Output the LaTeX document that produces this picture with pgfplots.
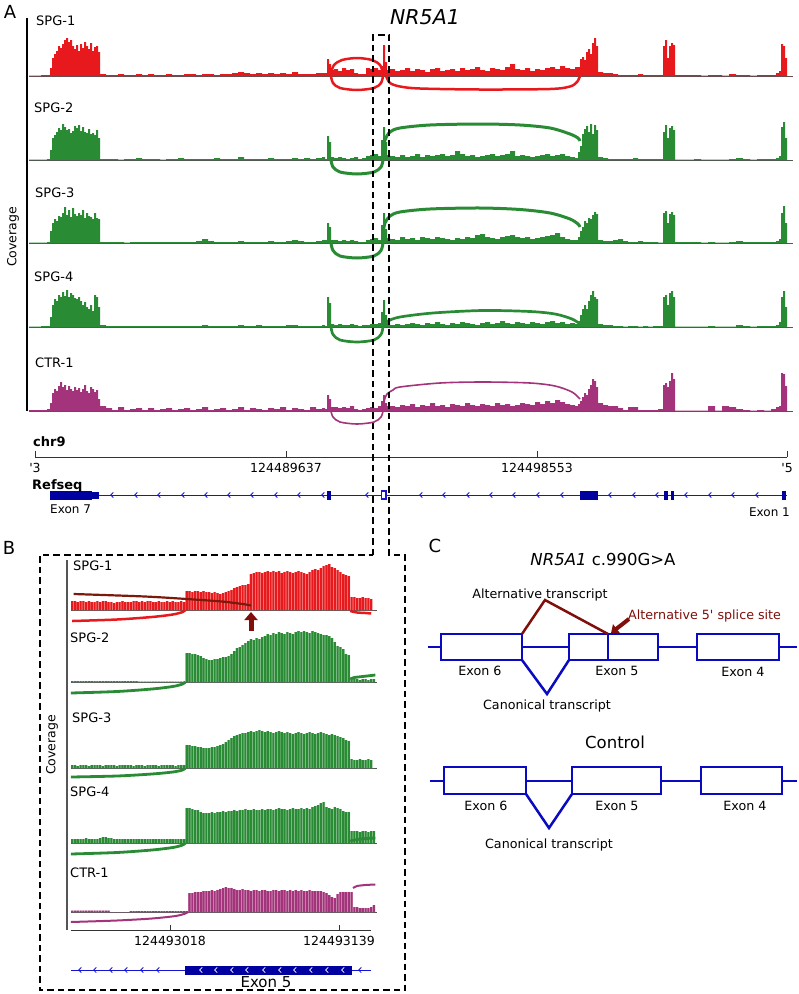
\documentclass[border=0pt]{standalone}
\usepackage{fontspec}
\setmainfont{DejaVu Sans}
\usepackage{pgfplots}
\pgfplotsset{compat=1.18}
\usepackage{pgfplotstable}
\usetikzlibrary{arrows.meta}
\definecolor{cred}{HTML}{E8191C}
\definecolor{cgreen}{HTML}{2A8B35}
\definecolor{cmag}{HTML}{A3337A}
\definecolor{cdred}{HTML}{800E0A}
\definecolor{cbrown}{HTML}{7A1A0C}
\definecolor{cblue}{HTML}{1414D2}
\definecolor{cblueC}{HTML}{0A0AC0}
\definecolor{cnavy}{HTML}{0000A0}
\definecolor{cgray}{HTML}{555555}
\newcommand\fs[1]{\fontsize{#1}{#1}\selectfont}
\pgfdeclareplotmark{chev}{%
  \pgfpathmoveto{\pgfqpoint{1.3pt}{2.6pt}}%
  \pgfpathlineto{\pgfqpoint{-1.3pt}{0pt}}%
  \pgfpathlineto{\pgfqpoint{1.3pt}{-2.6pt}}%
  \pgfusepathqstroke}
\tikzset{lbl/.style={inner sep=0pt}}

% ---------------- Panel A coverage (x: px position along locus, y: coverage height) -----
\pgfplotstableread{
x s1 s2 s3 s4 c1
29 0.5 0.5 0.5 0.5 1
35 0.5 0.5 0.5 0.5 1
41 1 0.5 0.5 1 1
47 1 1 1 1 2
50 8 10 12 10 8
52 18 22 20 22 18
54 22 25 24 28 22
56 25 28 22 26 20
58 30 32 27 32 25
60 28 30 26 30 29
62 32 36 30 35 24
64 36 33 36 31 26
66 38 30 28 37 21
68 34 31 33 30 25
70 36 27 26 34 22
72 30 29 35 32 20
74 27 34 29 29 24
76 31 32 27 28 21
78 25 35 30 30 23
80 32 29 28 26 19
82 28 33 33 22 22
84 34 28 25 25 26
86 30 27 30 20 20
88 27 31 27 18 18
90 33 26 26 22 24
92 25 27 24 16 22
94 29 25 30 32 19
96 30 30 25 30 21
98 24 22 24 20 12
100 2 1 1 2 5
106 1 1 1 1 3
112 1 1 1 1 1
118 2 0.5 1 1 4
124 1 1 0.5 1 1
130 1 1 1 1 2
136 2 2 1 1 3
142 1 1 1 1 1
148 2 1 1 1 3
154 1 1 1 1 1
160 1 0.5 1 1 2
166 2 1 1 1 3
172 1 1 1 1 1
178 1 2 1 1 2
184 2 1 1 1 3
190 2 1 1 1 1
196 1 1 2 1 2
202 2 1 4 2 4
208 2 1 2 1 1
214 1 2 1 1 2
220 2 1 1 1 3
226 2 1 1 1 1
232 3 1 1 1 2
238 4 3 2 2 4
244 3 1 1 1 1
250 2 1 1 1 3
256 3 1 1 2 2
262 2 1 1 1 1
268 3 2 2 1 3
274 2 1 1 1 2
280 3 1 1 1 4
286 2 1 2 2 1
292 4 2 3 2 3
298 2 1 2 1 2
304 2 2 1 1 1
310 2 1 1 1 4
316 3 2 2 1 2
322 3 3 3 2 3
325 3 1 3 1 2
327 17 24 20 30 16
329 12 18 16 24 12
331 6 3 3 3 4
334 7 2 3 2 4
338 5 3 2 3 3
342 8 2 3 2 4
346 6 1 2 2 3
350 7 2 3 3 5
354 3 3 2 2 2
358 2 1 1 1 1
362 2 2 1 2 2
366 8 4 3 2 3
370 7 5 4 3 4
374 8 6 5 3 3
378 6 4 3 4 5
381 10 20 18 15 10
383 31 33 30 27 16
385 14 18 14 12 8
387 6 5 5 4 5
390 7 4 4 2 5
395 5 3 3 3 4
400 6 5 6 2 6
405 8 3 4 3 5
410 5 4 5 4 7
415 7 6 3 3 4
420 6 3 6 2 6
425 4 5 5 4 5
430 7 4 4 3 8
435 8 5 6 5 5
440 5 6 5 3 6
445 6 4 4 2 4
450 7 5 3 4 7
455 5 9 5 3 6
460 8 6 4 5 5
465 6 4 6 4 8
470 7 5 5 3 6
475 9 3 8 2 5
480 6 4 9 4 7
485 5 5 6 5 6
490 8 6 5 3 5
495 7 4 4 4 8
500 6 5 6 6 6
505 9 6 7 4 7
510 12 9 8 3 5
515 7 4 6 5 6
520 6 5 5 4 8
525 8 4 6 3 7
530 5 3 4 5 6
535 7 4 5 4 9
540 6 5 6 3 7
545 8 6 7 5 10
550 9 4 8 6 8
555 7 5 10 4 11
560 10 6 6 5 9
565 8 4 4 3 7
570 7 3 3 4 6
575 9 2 3 3 5
578 9 8 6 6 7
580 17 14 12 12 10
582 19 26 16 18 14
584 16 31 22 22 18
586 24 34 20 18 16
588 27 28 25 26 22
590 22 36 24 32 26
592 33 26 28 36 32
594 38 35 31 30 30
596 30 30 29 28 24
598 4 3 3 3 8
603 3 2 2 2 6
608 3 1 2 2 5
613 2 1 3 1 5
618 1 1 4 1 3
623 1 1 2 0.5 1
628 1 1 1 1 4
633 1 2 1 1 4
638 2 1 2 0.5 1
643 1 1 1 1 1
648 1 1 1 0.5 1
653 1 1 1 1 1
658 1 1 0.5 1 2
663 30 28 30 30 26
665 36 35 32 32 28
667 18 22 20 22 24
669 30 32 29 34 30
671 33 34 31 36 38
673 31 30 28 30 32
675 1 0.5 1 0.5 0.5
680 1 0.5 1 0.5 0.5
687 1 0.5 1 0.5 0.5
694 1 1 1 0.5 0.5
701 0.5 0.5 0.5 0.5 0.5
708 1 0.5 1 1 5
715 1 0.5 0.5 0.5 0.5
722 0.5 0.5 0.5 0.5 5
729 2 1 1 0.5 4
736 1 2 2 2 2
743 1 1 1 1 1
750 0.5 0.5 1 0.5 0.5
757 1 1 1 1 1
764 1 1 1 1 0.5
771 1 1 1 1 2
776 3 2 2 2 4
779 5 4 4 5 5
781 32 33 30 30 38
783 30 38 37 36 37
785 18 22 20 20 25
787 0 0 0 0 0
793 0 0 0 0 0
}\covA

% ---------------- Panel B coverage (x: bp offset from 124493000) ----------------
\pgfplotstableread{
x s1 s2 s3 s4 c1
-52 9 1 3 4 1.5
-50 9 1 3 4 1.5
-48 8 1 2 4 1.5
-46 9 1 3 4 1.5
-44 9 1 3 4 1.5
-42 8 1 3 5 1.5
-40 9 1 2 4 1.5
-38 8 1 3 4 1.5
-36 8 1 3 4 1.5
-34 9 1 3 4 1.5
-32 8 1 3 5 1.5
-30 9 1 2 6 1.5
-28 9 1 3 6 1.5
-26 8 1 3 5 1.5
-24 8 1 3 5 0
-22 7 1 3 4 0
-20 8 1 2 4 0
-18 8 1 3 4 0
-16 9 1 3 4 0
-14 8 1 3 4 0
-12 8 1 3 4 0
-10 8 1 3 4 1
-8 9 1 2 4 1
-6 9 1 3 4 1
-4 8 0.5 3 4 1
-2 9 0.5 3 4 1
0 8 0.5 2 4 1
2 9 0.5 3 4 1
4 9 0.5 3 4 1
6 8 0.5 3 4 1
8 8 0.5 3 4 1
10 9 0.5 2 4 1
12 8 0.5 3 4 1
14 8 0.5 3 4 1
16 9 0.5 3 4 1
18 8 0.5 3 4 1
20 9 0.5 3 4 1
22 8 0.5 2 4 1
24 8 0.5 3 4 1
26 9 0.5 3 4 1
28 8 0.5 3 4 1
30 19 29 23 35 1
32 19 29 23 35 19
34 18 28 22 34 19
36 19 28 22 33 20
38 19 27 21 33 20
40 18 26 21 31 20
42 19 24 20 30 21
44 18 23 20 30 21
46 18 22 20 30 21
48 17 22 21 31 22
50 18 23 21 30 21
52 17 23 22 31 22
54 16 24 23 31 23
56 17 25 24 32 24
58 18 25 26 31 25
60 19 26 28 32 24
62 20 28 30 32 24
64 22 31 32 33 23
66 23 34 33 32 22
68 24 35 34 33 22
70 25 37 35 33 23
72 25 39 35 34 22
74 26 41 36 33 22
76 36 43 37 33 21
78 37 42 36 34 22
80 38 44 37 33 22
82 38 43 38 33 21
84 37 45 37 34 22
86 38 46 36 33 22
88 39 48 37 34 21
90 38 47 36 34 21
92 39 49 35 33 22
94 38 48 36 34 22
96 39 50 37 35 21
98 37 49 36 34 22
100 38 48 35 34 22
102 39 50 36 33 21
104 38 49 35 34 22
106 37 48 34 35 21
108 38 50 35 34 22
110 39 51 36 34 21
112 38 50 35 35 22
114 37 51 34 34 21
116 36 50 35 35 21
118 38 49 36 34 22
120 40 51 35 36 21
122 41 50 34 37 21
124 40 49 35 38 21
126 42 48 36 40 21
128 44 47 35 41 20
130 45 47 34 36 19
132 46 46 33 35 17
134 43 44 34 34 15
136 42 40 33 36 14
138 40 36 32 35 18
140 38 35 31 34 20
142 36 33 30 32 20
144 35 28 28 31 20
146 34 27 27 31 20
148 13 3 9 12 20
150 13 3 8 12 5
152 12 3 8 12 5
154 12 2 9 11 4
156 13 3 8 12 4
158 12 3 8 12 4
160 12 2 9 11 4
162 11 3 8 12 5
164 0 3 0 12 7
}\covB

\pgfplotsset{
 trackA/.style={hide axis, clip=false, x=1pt, y=1pt, xmin=29, xmax=793, ymin=-25, ymax=45, enlargelimits=false, anchor=south west},
 trackB/.style={hide axis, clip=false, x=1.397pt, y=1pt, xmin=-53, xmax=166, ymin=-15, ymax=55, enlargelimits=false, anchor=south west},
}
\newcommand\trackA[4]{%
\begin{axis}[trackA, at={(29pt,-#1pt-25pt)}]
\addplot[cgray, line width=1pt] coordinates {(29,0)(793,0)};
\addplot[fill=#3, draw=none, const plot mark left] table[x=x,y=#2]{\covA} \closedcycle;
#4
\end{axis}}
\newcommand\trackB[4]{%
\begin{axis}[trackB, at={(70.8pt,-#1pt-15pt)}]
\addplot[cgray, line width=1pt] coordinates {(-53,0)(166,0)};
\addplot[fill=#3!40!white, draw=none, const plot mark mid] table[x=x,y=#2]{\covB} \closedcycle;
\addplot[ybar, bar width=1.5, bar shift=0pt, fill=#3, draw=none] table[x=x,y=#2]{\covB};
#4
\end{axis}}

\begin{document}
\begin{tikzpicture}
\useasboundingbox (0pt,0pt) rectangle (799pt,-994pt);

% ================= Panel A tracks =================
\trackA{76}{s1}{cred}{
\addplot[cred, line width=2.5pt, smooth] coordinates {(331,0)(333,-7)(340,-12)(357,-14)(374,-12)(381,-7)(383,0)};
\addplot[cred, line width=2.5pt, smooth] coordinates {(331,3)(334,11)(342,16)(357,18)(372,16)(380,11)(383,3)};
\addplot[cred, line width=2.5pt, smooth] coordinates {(386,0)(390,-7)(400,-10.5)(420,-12.5)(480,-13.5)(550,-13)(570,-10.5)(577,-6)(580,0)};
}
\trackA{160}{s2}{cgreen}{
\addplot[cgreen, line width=3pt, smooth] coordinates {(331,0)(333,-7)(340,-12)(357,-14)(374,-12)(381,-7)(383,0)};
\addplot[cgreen, line width=3pt, smooth] coordinates {(383,8)(385,20)(390,28)(400,32)(430,35)(480,36)(520,35)(550,32)(570,26)(578,22)(580,19)};
}
\trackA{243}{s3}{cgreen}{
\addplot[cgreen, line width=3pt, smooth] coordinates {(331,0)(333,-7.5)(340,-13)(357,-15)(374,-13)(381,-7.5)(383,0)};
\addplot[cgreen, line width=3pt, smooth] coordinates {(383,10)(385,20)(390,27)(400,31)(430,34)(480,35)(520,33.5)(550,30)(570,24)(578,19)(580,16)};
}
\trackA{327}{s4}{cgreen}{
\addplot[cgreen, line width=2.7pt, smooth] coordinates {(331,0)(333,-7.5)(340,-13)(357,-15)(374,-13)(381,-7.5)(383,0)};
\addplot[cgreen, line width=2.7pt, smooth] coordinates {(384,2)(388,6)(400,10)(433,14)(483,16.5)(530,15.5)(555,13)(572,8)(580,3)};
}
\trackA{411}{c1}{cmag}{
\addplot[cmag, line width=1.6pt, smooth] coordinates {(331,0)(333,-6)(340,-11)(357,-13)(374,-11)(381,-6)(383,0)};
\addplot[cmag, line width=1.6pt, smooth] coordinates {(382,2)(384,10)(387,17)(393,21)(400,24)(440,28)(483,29)(530,28)(555,25)(572,19)(580,12)};
}

% ruler + gene model A
\begin{axis}[x=1pt, y=1pt, xmin=35, xmax=787, ymin=0, ymax=10, enlargelimits=false, clip=false,
  axis x line=bottom, axis y line=none, axis line style={black!80, line width=0.8pt, -},
  xtick={35,286,537,787}, xticklabels={\textquotesingle 3,124489637,124498553,\textquotesingle 5},
  tick align=inside, major tick length=6pt, tick style={black!80, line width=0.8pt},
  xticklabel style={font=\fs{12.5}, yshift=-3pt},
  at={(35pt,-457pt)}, anchor=south west]
\addplot[cblue, line width=1pt] coordinates {(50,-38)(787,-38)};
\addplot[fill=cnavy, draw=none] coordinates {(50,-42.5)(92,-42.5)(92,-33.5)(50,-33.5)};
\addplot[fill=cnavy, draw=none] coordinates {(92,-41.5)(99,-41.5)(99,-34.5)(92,-34.5)};
\addplot[fill=cnavy, draw=none] coordinates {(326.5,-42.5)(330.5,-42.5)(330.5,-33.5)(326.5,-33.5)};
\addplot[fill=white, draw=cblue, line width=1.2pt, line cap=rect] coordinates {(381.5,-42)(386,-42)(386,-34)(381.5,-34)(381.5,-42)};
\addplot[fill=cnavy, draw=none] coordinates {(580,-42.5)(598,-42.5)(598,-33.5)(580,-33.5)};
\addplot[fill=cnavy, draw=none] coordinates {(664,-42.5)(668,-42.5)(668,-33.5)(664,-33.5)};
\addplot[fill=cnavy, draw=none] coordinates {(670.5,-42.5)(673.5,-42.5)(673.5,-33.5)(670.5,-33.5)};
\addplot[fill=cnavy, draw=none] coordinates {(781.5,-42.5)(786,-42.5)(786,-33.5)(781.5,-33.5)};
\addplot[only marks, mark=chev, cblue, mark options={line width=0.8pt}] coordinates {(112,-38)(136,-38)(159,-38)(183,-38)(206,-38)(229,-38)(252,-38)(276,-38)(299,-38)(323,-38)(367,-38)(421,-38)(444,-38)(468,-38)(491,-38)(514,-38)(538,-38)(562,-38)(610,-38)(634,-38)(657,-38)(686,-38)(710,-38)(733,-38)(757,-38)};
\end{axis}

% ================= Panel B tracks =================
\trackB{610}{s1}{cred}{
\addplot[cbrown, line width=2.2pt, smooth] coordinates {(-51,16)(0,13.5)(30,11)(55,8.5)(70,6)(76,4.5)};
\addplot[cred, line width=2.5pt, smooth] coordinates {(-52,-11)(-20,-9.5)(5,-7)(20,-4.5)(27,-2)(29,0)};
\addplot[cred, line width=2.5pt, smooth] coordinates {(147,-1)(152,-2.5)(158,-3)(162,-3.5)};
\addplot[cdred, line width=5pt, -{Triangle[width=13pt,length=8pt]}] coordinates {(76,-21)(76,-2)};
}
\trackB{682}{s2}{cgreen}{
\addplot[cgreen, line width=2.8pt, smooth] coordinates {(-53,-11)(-20,-9.5)(5,-7)(20,-4.5)(27,-2)(29,0)};
\addplot[cgreen, line width=2.8pt, smooth] coordinates {(147,3)(150,4.5)(156,5.5)(165,7)};
}
\trackB{768}{s3}{cgreen}{
\addplot[cgreen, line width=2.8pt, smooth] coordinates {(-53,-9)(-20,-8)(5,-6)(20,-4)(27,-2)(29,0)};
}
\trackB{843}{s4}{cgreen}{
\addplot[cgreen, line width=2.8pt, smooth] coordinates {(-53,-11)(-20,-9.5)(5,-7)(20,-4.5)(27,-2)(29,0)};
\addplot[cgreen, line width=2.8pt, smooth] coordinates {(147,2)(152,3.5)(158,4.5)(165,5)};
}
\trackB{912}{c1}{cmag}{
\addplot[cmag, line width=2pt, smooth] coordinates {(-53,-10)(-20,-8.5)(5,-6.5)(22,-4)(29,-1.5)(31,0)};
\addplot[cmag, line width=2pt, smooth] coordinates {(149,24)(152,26)(158,27)(165,27.5)};
}

% ruler + gene model B
\begin{axis}[x=1.397pt, y=1pt, xmin=-53, xmax=162, ymin=0, ymax=10, enlargelimits=false, clip=false,
  axis x line=bottom, axis y line=none, axis line style={black!80, line width=0.8pt, -},
  xtick={18,139}, xticklabels={124493018,124493139},
  tick align=inside, major tick length=5pt, tick style={black!80, line width=0.8pt},
  xticklabel style={font=\fs{12.5}, yshift=-3pt},
  at={(70.8pt,-930pt)}, anchor=south west]
\addplot[cblue, line width=1pt] coordinates {(-53,-40)(162,-40)};
\addplot[fill=cnavy, draw=none] coordinates {(29,-44.5)(148,-44.5)(148,-35.5)(29,-35.5)};
\addplot[only marks, mark=chev, cblue, mark options={line width=0.8pt}] coordinates {(-46.4,-40)(-35.7,-40)(-24.2,-40)(-13.5,-40)(-2,-40)(9.4,-40)(154,-40)};
\addplot[only marks, mark=chev, white, mark options={line width=0.7pt}] coordinates {(40.2,-40)(50.9,-40)(62.4,-40)(73.1,-40)(85.3,-40)(96.7,-40)(107.5,-40)(118.9,-40)(130.4,-40)(141.8,-40)};
\end{axis}

% ================= Canvas: axes lines, panel C, dashed box =================
\begin{axis}[hide axis, clip=false, x=1pt, y=1pt, xmin=0, xmax=799, ymin=-994, ymax=0, enlargelimits=false, at={(0pt,0pt)}, anchor=north west]
\addplot[black, line width=1.2pt] coordinates {(27,-18)(27,-411)};
\addplot[cgray, line width=1.5pt] coordinates {(67,-560)(67,-930)};
% mutant diagram
\addplot[cblueC, line width=2.5pt] coordinates {(428,-647)(797,-647)};
\addplot[cblueC, line width=2.5pt, fill=white, line cap=rect] coordinates {(441,-634)(522,-634)(522,-660)(441,-660)(441,-634)};
\addplot[cblueC, line width=2.5pt, fill=white, line cap=rect] coordinates {(569,-634)(658,-634)(658,-660)(569,-660)(569,-634)};
\addplot[cblueC, line width=2.5pt, fill=white, line cap=rect] coordinates {(697,-634)(779,-634)(779,-660)(697,-660)(697,-634)};
\addplot[cblueC, line width=2.5pt] coordinates {(608,-634)(608,-660)};
\addplot[cblueC, line width=2.5pt] coordinates {(522,-660)(547,-694)(569,-660)};
\addplot[cdred, line width=2.5pt] coordinates {(522,-634)(545,-600)(608,-634)};
\addplot[cdred, line width=4pt, -{Triangle[width=11pt,length=7pt]}] coordinates {(629,-619)(611,-633)};
% control diagram
\addplot[cblueC, line width=2.5pt] coordinates {(430,-781)(797,-781)};
\addplot[cblueC, line width=2.5pt, fill=white, line cap=rect] coordinates {(444,-767)(526,-767)(526,-794)(444,-794)(444,-767)};
\addplot[cblueC, line width=2.5pt, fill=white, line cap=rect] coordinates {(572,-767)(661,-767)(661,-794)(572,-794)(572,-767)};
\addplot[cblueC, line width=2.5pt, fill=white, line cap=rect] coordinates {(701,-767)(782,-767)(782,-794)(701,-794)(701,-767)};
\addplot[cblueC, line width=2.5pt] coordinates {(526,-794)(549,-828)(572,-794)};
% dashed zoom box
\addplot[black, line width=2pt, dash pattern=on 6.5pt off 4pt] coordinates {(373,-555)(373,-35)(389,-35)(389,-555)(405,-555)(405,-990)(40,-990)(40,-555)(373,-555)};
\end{axis}

% ================= Text =================
\node[lbl, font=\fs{18}] at (10pt,-11.5pt) {A};
\node[lbl, font=\fs{18}] at (9pt,-548pt) {B};
\node[lbl, font=\fs{18}] at (435pt,-546pt) {C};
\node[lbl, font=\fs{20.5}\itshape] at (425pt,-17pt) {NR5A1};
\node[lbl, font=\fs{12.5}, rotate=90] at (13pt,-237pt) {Coverage};
\node[lbl, font=\fs{12.5}, rotate=90] at (52pt,-745pt) {Coverage};
\node[lbl, font=\fs{13}, anchor=west] at (36pt,-21pt) {SPG-1};
\node[lbl, font=\fs{13}, anchor=west] at (34pt,-108pt) {SPG-2};
\node[lbl, font=\fs{13}, anchor=west] at (35pt,-193pt) {SPG-3};
\node[lbl, font=\fs{13}, anchor=west] at (34pt,-277pt) {SPG-4};
\node[lbl, font=\fs{13}, anchor=west] at (35pt,-363pt) {CTR-1};
\node[lbl, font=\fs{13}\bfseries, anchor=west] at (33pt,-442pt) {chr9};
\node[lbl, font=\fs{13}\bfseries, anchor=west] at (32pt,-485.5pt) {Refseq};
\node[lbl, font=\fs{12}, anchor=west] at (50pt,-509pt) {Exon 7};
\node[lbl, font=\fs{12}, anchor=east] at (790pt,-512pt) {Exon 1};
\node[lbl, font=\fs{13}, anchor=west] at (73pt,-566pt) {SPG-1};
\node[lbl, font=\fs{13}, anchor=west] at (70pt,-638pt) {SPG-2};
\node[lbl, font=\fs{13}, anchor=west] at (72pt,-718pt) {SPG-3};
\node[lbl, font=\fs{13}, anchor=west] at (70pt,-792pt) {SPG-4};
\node[lbl, font=\fs{13}, anchor=west] at (70pt,-873pt) {CTR-1};
\node[lbl, font=\fs{15}] at (266pt,-982pt) {Exon 5};
\node[lbl, font=\fs{16.5}] at (603pt,-559pt) {\textit{NR5A1} c.990G>A};
\node[lbl, font=\fs{12.7}] at (540pt,-594.5pt) {Alternative transcript};
\node[lbl, font=\fs{12.7}, anchor=west, text=cdred] at (628pt,-615.5pt) {Alternative 5\textquotesingle\ splice site};
\node[lbl, font=\fs{12.7}] at (480pt,-671pt) {Exon 6};
\node[lbl, font=\fs{12.7}] at (617pt,-671pt) {Exon 5};
\node[lbl, font=\fs{12.7}] at (743pt,-672pt) {Exon 4};
\node[lbl, font=\fs{12.7}] at (547pt,-706pt) {Canonical transcript};
\node[lbl, font=\fs{16.5}] at (615pt,-742pt) {Control};
\node[lbl, font=\fs{12.7}] at (486pt,-806pt) {Exon 6};
\node[lbl, font=\fs{12.7}] at (617pt,-806pt) {Exon 5};
\node[lbl, font=\fs{12.7}] at (745pt,-806pt) {Exon 4};
\node[lbl, font=\fs{12.7}] at (549pt,-845pt) {Canonical transcript};
\end{tikzpicture}
\end{document}
